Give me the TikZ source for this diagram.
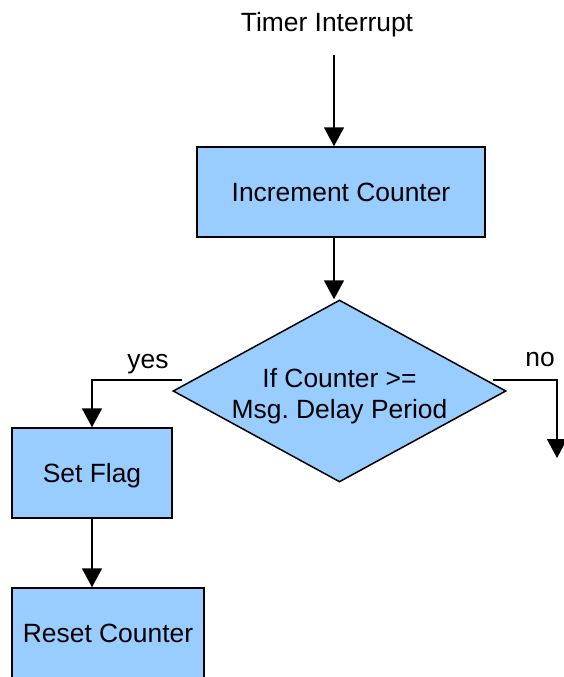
\documentclass[tikz,border=0pt]{standalone}
\usepackage{fontspec}
\setmainfont{Liberation Sans}
\usetikzlibrary{arrows.meta,shapes.geometric}
\definecolor{boxfill}{HTML}{99CCFF}
\begin{document}
\begin{tikzpicture}[x=1pt,y=-1pt,
  every node/.style={font=\fontsize{26.4}{31}\selectfont, inner sep=0pt},
  oneline/.style={text height=19pt, text depth=0pt},
  procbox/.style={oneline, draw=black, line width=1.5pt, fill=boxfill, rectangle, minimum height=90pt},
  decbox/.style={draw=black, line width=1.5pt, fill=boxfill, diamond,
                 minimum width=333pt, minimum height=182pt},
  arr/.style={line width=1.8pt, -{Triangle[width=20pt,length=19pt]}}]
  \useasboundingbox (0,0) rectangle (564,677);
  \clip (0,0) rectangle (564,677);

  % entry label and process steps
  \node[oneline] (title) at (327,22) {Timer Interrupt};
  \node[procbox, minimum width=288pt] (inc) at (341,192) {Increment Counter};
  \node[decbox] (dec) at (339.5,391) {};
  \node[align=center] (dectext) at (339.5,396) {If Counter >=\\Msg.\ Delay Period};
  \node[procbox, minimum width=160pt] (setflag) at (92,473) {Set Flag};
  \node[procbox, minimum width=192pt] (reset) at (108,633) {Reset Counter};

  % branch labels
  \node[oneline] (yes) at (148,359) {yes};
  \node[oneline] (no) at (540,357) {no};

  % connector end points
  \coordinate (entry) at (334,55);
  \coordinate (yesstart) at (182,380);
  \coordinate (nostart) at (493,380);
  \coordinate (noend) at (557,458);

  % connectors
  \draw[arr] (entry) -- (entry |- inc.north);
  \draw[arr] (inc.south -| entry) -- (entry |- dec.north);
  \draw[arr] (yesstart) -| (setflag.north);
  \draw[arr] (nostart) -| (noend);
  \draw[arr] (setflag.south) -- (setflag.south |- reset.north);
\end{tikzpicture}
\end{document}
